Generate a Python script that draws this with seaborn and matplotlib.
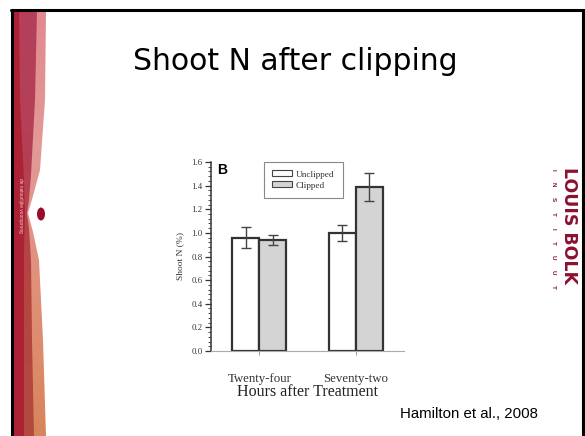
import numpy as np
import pandas as pd
import matplotlib
matplotlib.use("Agg")
import matplotlib.pyplot as plt
import seaborn as sns
from matplotlib.patches import Polygon, Ellipse, Rectangle, Patch
from matplotlib.lines import Line2D
from matplotlib.ticker import MultipleLocator
from matplotlib.colors import LinearSegmentedColormap

# ---- data ----
hours = ["Twenty-four", "Twenty-four", "Seventy-two", "Seventy-two"]
treatment = ["Unclipped", "Clipped", "Unclipped", "Clipped"]
shoot_n = [0.96, 0.94, 1.00, 1.39]
shoot_n_err = [0.09, 0.045, 0.07, 0.12]
hue_order = ["Unclipped", "Clipped"]
cat_order = ["Twenty-four", "Seventy-two"]
y_ticks = [0.0, 0.2, 0.4, 0.6, 0.8, 1.0, 1.2, 1.4, 1.6]

df = pd.DataFrame({"hours": hours, "treatment": treatment, "shoot_n": shoot_n, "err": shoot_n_err})

sns.set_theme(style="white")
plt.rcParams["font.family"] = ["Liberation Sans", "DejaVu Sans"]

W, H = 585, 436
fig = plt.figure(figsize=(W / 100, H / 100), dpi=100)
fig.patch.set_facecolor("white")


def fx(x):
    return x / W


def fy(y):
    return 1 - y / H


# ---- left decoration ----
deco = fig.add_axes([0, 0, 1, 1], zorder=0)
deco.set_xlim(0, W)
deco.set_ylim(H, 0)
deco.axis("off")


def band(right_pts):
    return [(13, 11)] + right_pts + [(13, 436)]


light_pts = band([(46, 11), (45, 100), (40, 170), (33, 196), (28, 213), (33, 232), (39, 260), (43, 340), (46, 436)])
mid_pts = band([(37, 11), (35, 100), (31, 175), (29, 200), (27, 213), (29, 228), (31, 260), (32, 340), (34, 436)])
dark_pts = band([(19, 11), (20, 100), (24, 180), (25, 213), (24, 250), (24, 436)])

yy = np.linspace(0, 1, 256).reshape(-1, 1)
light_cmap = LinearSegmentedColormap.from_list("l", ["#e38a8e", "#e29a98", "#e09078", "#d8845a"])
mid_cmap = LinearSegmentedColormap.from_list("m", ["#b4405c", "#b53f55", "#b4463f", "#b24a3f"])
for pts, cmap in [(light_pts, light_cmap), (mid_pts, mid_cmap)]:
    im = deco.imshow(yy, cmap=cmap, extent=[13, 50, 436, 11], aspect="auto", zorder=1)
    poly = Polygon(pts, closed=True, transform=deco.transData, facecolor="none", edgecolor="none")
    deco.add_patch(poly)
    im.set_clip_path(poly)
deco.add_patch(Polygon(dark_pts, closed=True, facecolor="#ad2134", edgecolor="none", zorder=2))
deco.add_patch(Ellipse((41, 214), 8, 13, facecolor="#9a0c2c", edgecolor="none", zorder=3))
deco.text(20, 178, "de natuurlijke voorsprong", rotation=-90, ha="center", va="top",
          fontsize=3.4, color="#f3d0d0", zorder=4)
# slide border
deco.add_line(Line2D([12, 12], [10, 436], color="black", lw=2.2, zorder=5))
deco.add_line(Line2D([11, 584], [10, 10], color="black", lw=2.2, zorder=5))
deco.add_line(Line2D([583, 583], [10, 436], color="black", lw=2.2, zorder=5))

# logo
deco.text(568.5, 167, "LOUIS BOLK", rotation=-90, ha="center", va="top", fontsize=12.5,
          fontweight="bold", family=["DejaVu Sans"], color="#8c1131", zorder=4)
for i, ch in enumerate("INSTITUUT"):
    deco.text(553, 170 + i * 14.6, ch, rotation=-90, ha="center", va="center", fontsize=4.5,
              fontweight="bold", color="#8c1131", zorder=4)

# title and citation
fig.text(fx(295), fy(70), "Shoot N after clipping", ha="center", va="baseline", fontsize=21.5,
         family=["DejaVu Sans"], color="black")
fig.text(fx(400), fy(418), "Hamilton et al., 2008", ha="left", va="baseline", fontsize=10.8,
         color="black")

# ---- chart ----
ax = fig.add_axes([fx(211), fy(351), fx(404) - fx(211), fy(162) - fy(351)], zorder=2)
ax.set_facecolor("none")
sns.barplot(data=df, x="hours", y="shoot_n", hue="treatment", order=cat_order, hue_order=hue_order,
            palette=["white", "#d4d4d4"], edgecolor="#333333", linewidth=1.6, width=0.56, gap=0,
            errorbar=None, legend=False, ax=ax)

# error bars at bar centres
bars = [p for p in ax.patches if isinstance(p, Rectangle)]
for p in bars:
    xc = p.get_x() + p.get_width() / 2
    h = p.get_height()
    idx = int(np.argmin([abs(h - v) for v in df["shoot_n"]]))
    ax.errorbar(xc, df["shoot_n"][idx], yerr=df["err"][idx], fmt="none", ecolor="#444444",
                elinewidth=1.0, capsize=3.5, capthick=1.0, zorder=5)

ax.set_xlim(-0.5, 1.5)
ax.set_ylim(0, 1.6)
ax.set_yticks(y_ticks)
ax.set_yticklabels([f"{v:.1f}" for v in y_ticks], fontsize=6.3, family=["Liberation Serif"],
                   color="#333333")
ax.yaxis.set_minor_locator(MultipleLocator(0.04))
ax.tick_params(axis="y", which="major", direction="out", length=4, width=0.9, color="#333333",
               left=True, pad=2)
ax.tick_params(axis="y", which="minor", direction="out", length=2, width=0.6, color="#333333",
               left=True)
ax.tick_params(axis="x", which="major", direction="out", length=3, width=0.7, color="#999999",
               bottom=True, pad=13)
for lbl in ax.get_xticklabels():
    lbl.set_fontsize(9.3)
    lbl.set_family(["Liberation Serif"])
    lbl.set_color("#333333")
ax.set_xlabel("Hours after Treatment", fontsize=11.5, family=["Liberation Serif"], color="#222222",
              labelpad=-1)
ax.set_ylabel("Shoot N (%)", fontsize=6.8, family=["Liberation Serif"], color="#333333", labelpad=5)
for s in ["top", "right"]:
    ax.spines[s].set_visible(False)
ax.spines["left"].set_color("#333333")
ax.spines["left"].set_linewidth(1.1)
ax.spines["bottom"].set_color("#aaaaaa")
ax.spines["bottom"].set_linewidth(0.8)

ax.text(0.03, 0.995, "B", transform=ax.transAxes, fontsize=10, fontweight="bold",
        family=["Liberation Sans"], ha="left", va="top", color="black")

handles = [Patch(facecolor=c, edgecolor="#444444", linewidth=0.8, label=l)
           for c, l in zip(["white", "#d4d4d4"], hue_order)]
leg = ax.legend(handles=handles, loc="upper left", bbox_to_anchor=(0.275, 1.0), frameon=True,
                fancybox=False, edgecolor="#888888", framealpha=1,
                prop={"family": "Liberation Serif", "size": 6.7},
                handlelength=2.1, handleheight=0.6, borderpad=0.9, labelspacing=0.3,
                handletextpad=0.4, borderaxespad=0)
leg.get_frame().set_linewidth(0.8)
for t in leg.get_texts():
    t.set_color("#333333")

fig.savefig("out.png", dpi=100)
